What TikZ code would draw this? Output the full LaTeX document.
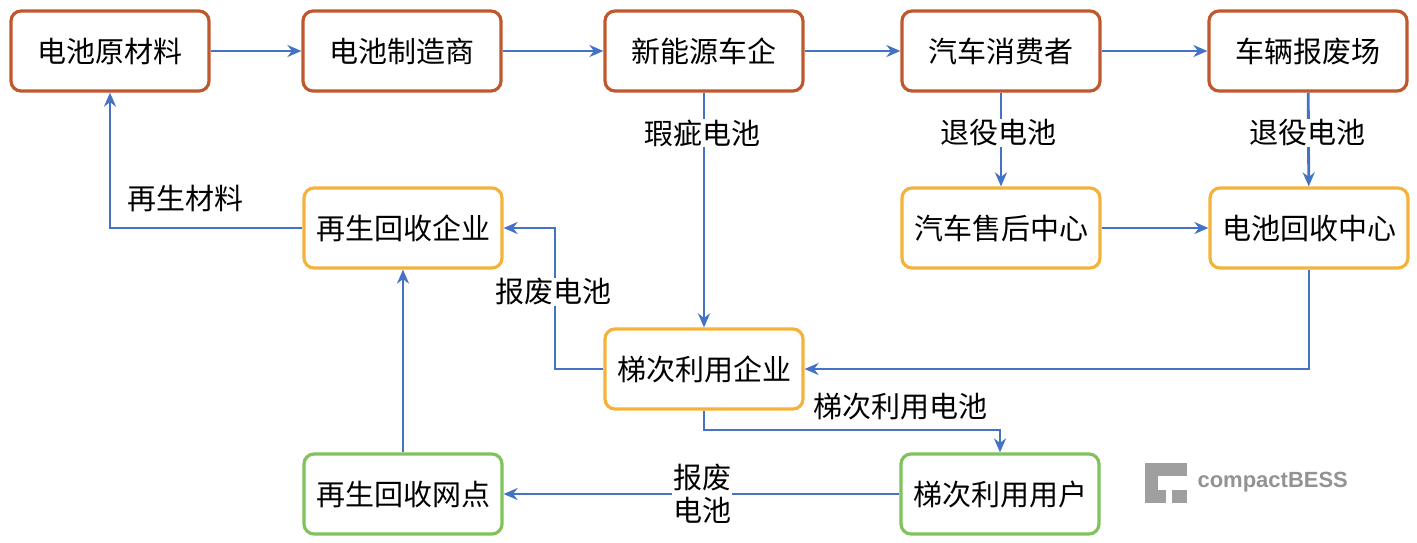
\documentclass[tikz,border=0pt]{standalone}
\usepackage{fontspec}
\setmainfont{Noto Sans CJK SC}
\newfontfamily\logofont{Liberation Sans}
\usetikzlibrary{arrows.meta}
\definecolor{cb}{HTML}{C0582E}
\definecolor{co}{HTML}{F4B23A}
\definecolor{cg}{HTML}{80C25C}
\definecolor{ca}{HTML}{4472C4}
\begin{document}
\begin{tikzpicture}[x=1pt,y=-1pt,
 box/.style={draw,line width=3.2pt,rounded corners=10pt,minimum width=198pt,minimum height=80pt,font=\fontsize{29}{32}\selectfont,inner sep=0pt},
 b1/.style={box,draw=cb},b2/.style={box,draw=co},b3/.style={box,draw=cg},
 ar/.style={draw=ca,line width=2.8pt,-{Stealth[length=14pt,width=12pt]}},
 lb/.style={font=\fontsize{29}{32}\selectfont,fill=white,inner sep=1pt}]
\useasboundingbox (0,0) rectangle (1417,542);
\node[b1] (rm) at (110,51) {电池原材料};
\node[b1] (mf) at (402,51) {电池制造商};
\node[b1] (ev) at (704,51) {新能源车企};
\node[b1] (cs) at (1001,51) {汽车消费者};
\node[b1] (sc) at (1308,51) {车辆报废场};
\node[b2] (rc) at (403,228) {再生回收企业};
\node[b2] (as) at (1001,228) {汽车售后中心};
\node[b2] (bc) at (1309,228) {电池回收中心};
\node[b2] (se) at (704,369) {梯次利用企业};
\node[b3] (rp) at (403,494) {再生回收网点};
\node[b3] (su) at (1000,494) {梯次利用用户};
\draw[ar] (rm) -- (mf);
\draw[ar] (mf) -- (ev);
\draw[ar] (ev) -- (cs);
\draw[ar] (cs) -- (sc);
\draw[ar] (ev) -- (se);
\draw[ar] (cs) -- (as);
\draw[ar] (sc) -- (bc);
\draw[ar] (as) -- (bc);
\draw[ar] (bc.south) |- (se.east);
\draw[ar] (se.west) -- (555,369) |- (rc.east);
\draw[ar] (se.south) -- (704,430) -| (su.north);
\draw[ar] (su) -- (rp);
\draw[ar] (rp) -- (rc);
\draw[ar] (rc.west) -| (rm.south);
\node[lb] (l1) at (702,133) {瑕疵电池};
\node[lb] (l2) at (998,133) {退役电池};
\node[lb] (l3) at (1307,133) {退役电池};
\node[lb] (l4) at (553,292) {报废电池};
\node[font=\fontsize{29}{32}\selectfont] (l5) at (900,407) {梯次利用电池};
\node[lb,align=center,font=\fontsize{29}{33}\selectfont] (l6) at (702,494) {报废\\电池};
\node[font=\fontsize{29}{32}\selectfont] (l7) at (185,199) {再生材料};
\fill[gray!75] (1145,463) rectangle (1187,503);
\fill[white] (1158,476) rectangle (1187,490);
\fill[white] (1166,476) rectangle (1187,503);
\fill[gray!75] (1172,490) rectangle (1187,503);
\node[font=\logofont\bfseries\fontsize{22}{24}\selectfont,text=gray!85,anchor=west] (logo) at (1194,482) {compactBESS};
\end{tikzpicture}
\end{document}
